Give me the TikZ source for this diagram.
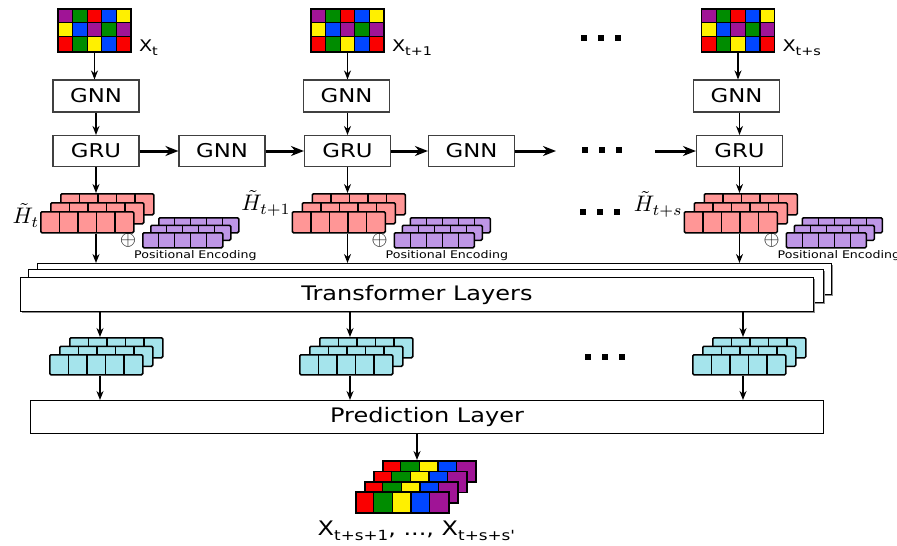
\documentclass[tikz,border=0pt]{standalone}
\usepackage{fontspec}
\usepackage{graphicx}
\setmainfont{DejaVu Sans}[FakeStretch=1.2]
\usetikzlibrary{arrows.meta,shadows}
\definecolor{cR}{RGB}{250,0,0}
\definecolor{cG}{RGB}{0,140,0}
\definecolor{cB}{RGB}{0,70,255}
\definecolor{cY}{RGB}{255,240,0}
\definecolor{cP}{RGB}{160,20,150}
\definecolor{hRed}{RGB}{255,150,150}
\definecolor{pePurple}{RGB}{190,150,230}
\definecolor{tCyan}{RGB}{165,228,236}

\newcommand\fs[1]{\fontsize{#1}{#1}\selectfont}
\newcommand\sbx[1]{\raisebox{-4pt}{\fs{12}#1}}
\newcommand\sbxx[1]{\raisebox{-5pt}{\fs{14}#1}}

% colour grid of an input X
\newcommand\xgrid[3]{%
  \foreach \c [count=\k from 0] in {cP,cG,cR,cB,cY,cY,cB,cP,cG,cP,cR,cG,cY,cB,cR}{%
    \pgfmathtruncatemacro\rr{\k/5}%
    \pgfmathtruncatemacro\cc{\k-5*\rr}%
    \fill[\c] ({#2-36.5+\cc*14.6},{#3+\rr*14.33}) rectangle ++(14.6,14.33);
  }
  \foreach \i in {1,...,4} \draw[line width=1.2pt] ({#2-36.5+\i*14.6},#3) -- ++(0,43);
  \foreach \j in {1,2} \draw[line width=1.2pt] (#2-36.5,{#3+\j*14.33}) -- ++(73,0);
  \node[draw, line width=1.6pt, minimum width=73pt, minimum height=43pt, anchor=north, inner sep=0pt] (#1) at (#2,#3) {};
}
% colour row of the output
\newcommand\crow[3]{%
  \foreach \c [count=\k from 0] in {cR,cG,cY,cB,cP}
    \fill[\c] ({#2+\k*18.6},#3) rectangle ++(18.6,21);
  \foreach \i in {1,...,4} \draw[line width=1.4pt] ({#2+\i*18.6},#3) -- ++(0,21);
  \node[draw, line width=1.5pt, minimum width=93pt, minimum height=21pt, anchor=north west, inner sep=0pt] (#1) at (#2,#3) {};
}
% hidden-state stack + positional encoding
\newcommand\hstack[2]{%
  \node[cells={93pt}{21pt}{hRed}{18.6pt}] (#1a) at (#2-36,193) {};
  \node[cells={93pt}{21pt}{hRed}{18.6pt}] (#1b) at (#2-46,202) {};
  \node[cells={93pt}{21pt}{hRed}{18.6pt}] (#1c) at (#2-56,211) {};
  \node[cells={80pt}{15pt}{pePurple}{16pt}] (#1p) at (#2+62,217) {};
  \node[cells={80pt}{15pt}{pePurple}{16pt}] (#1q) at (#2+54,224.5) {};
  \node[cells={80pt}{15pt}{pePurple}{16pt}] (#1r) at (#2+46,232) {};
  \node[inner sep=0pt] (#1o) at (#2+32,240) {\scalebox{2.05}{$\oplus$}};
  \node[anchor=west, inner sep=0pt, font=\fs{10.5}] (#1t) at (#2+38,256) {Positional Encoding};
}
\newcommand\cstack[2]{%
  \node[cells={93pt}{20pt}{tCyan}{18.6pt}] (#1a) at (#2-31,337) {};
  \node[cells={93pt}{20pt}{tCyan}{18.6pt}] (#1b) at (#2-41,345.5) {};
  \node[cells={93pt}{20pt}{tCyan}{18.6pt}] (#1c) at (#2-51,354) {};
}
\newcommand\dotsq[2]{%
  \foreach \d in {-17,0,17} \fill ({#1+\d-3.4},{#2-3.4}) rectangle ++(6.8,6.8);
}

\begin{document}
\begin{tikzpicture}[x=1pt,y=-1pt,
  nbox/.style={draw=black!75, line width=1.1pt, fill=white, minimum width=86pt, minimum height=31pt, inner sep=0pt, font=\fs{19}},
  tlayer/.style={draw=black, line width=1pt, fill=white, inner sep=0pt, anchor=north west, font=\fs{20}},
  shd/.style={drop shadow={shadow xshift=1.6pt, shadow yshift=-1.6pt, fill=black!45, opacity=1}},
  arrS/.style={-{Stealth[length=9pt,width=7pt]}, line width=1.7pt},
  arrL/.style={-{Stealth[length=13pt,width=10pt]}, line width=3pt},
  cells/.style n args={4}{draw, line width=1.5pt, rounded corners=1.2pt, anchor=north west, inner sep=0pt,
    minimum width=#1, minimum height=#2, fill=#3,
    path picture={\foreach \i in {1,...,4}{\draw[line width=1.4pt] ([xshift=\i*#4]path picture bounding box.north west) -- ([xshift=\i*#4]path picture bounding box.south west);}}},
]
\path[use as bounding box, fill=white] (0,0) rectangle (897,546);

% inputs
\xgrid{g1}{94.5}{8}
\xgrid{g2}{347.5}{8}
\xgrid{g3}{738}{8}
\node[anchor=base west, inner sep=0pt, font=\fs{16}] (lx1) at ([xshift=7pt,yshift=1pt]g1.south east) {X\sbx{t}};
\node[anchor=base west, inner sep=0pt, font=\fs{16}] (lx2) at ([xshift=7pt,yshift=1pt]g2.south east) {X\sbx{t+1}};
\node[anchor=base west, inner sep=0pt, font=\fs{16}] (lx3) at ([xshift=7pt,yshift=1pt]g3.south east) {X\sbx{t+s}};
\dotsq{601}{38}

% GNN top row
\node[nbox, minimum height=32pt] (n1) at (96,96) {GNN};
\node[nbox, minimum height=32pt] (n2) at (346.5,96) {GNN};
\node[nbox, minimum height=32pt] (n3) at (736.5,96) {GNN};
% GRU row
\node[nbox] (r1) at (96,151) {GRU};
\node[nbox] (na) at (222,151) {GNN};
\node[nbox] (r2) at (347.5,151) {GRU};
\node[nbox] (nb) at (471.5,151) {GNN};
\node[nbox] (r3) at (739.5,151) {GRU};
\coordinate (e1) at (556,151);
\coordinate (e2) at (655,151);
\dotsq{602}{150}

\foreach \g/\n/\r in {g1/n1/r1, g2/n2/r2, g3/n3/r3}{
  \draw[arrS] (\g.south) -- (\g.south |- \n.north);
  \draw[arrS] (\r.north |- \n.south) -- (\r.north);
}
\draw[arrL] (r1) -- (na);
\draw[arrL] (na) -- (r2);
\draw[arrL] (r2) -- (nb);
\draw[arrL] (nb) -- (e1);
\draw[arrL] (e2) -- (r3);

% hidden states
\hstack{h1}{96}
\hstack{h2}{347.5}
\hstack{h3}{739.5}
\node[anchor=east, inner sep=0.5pt] (lh1) at ([yshift=7pt]h1c.west) {\scalebox{2.25}{$\tilde{H}_t$}};
\node[anchor=east, inner sep=0.5pt] (lh2) at ([yshift=19pt]h2c.west) {\scalebox{2.25}{$\tilde{H}_{t+1}$}};
\node[anchor=east, inner sep=0.5pt] (lh3) at ([yshift=18pt]h3c.west) {\scalebox{2.25}{$\tilde{H}_{t+s}$}};
\dotsq{600}{212}

% transformer layers
\node[tlayer, shd, minimum width=794pt, minimum height=31pt] (tf3) at (37,263) {};
\node[tlayer, shd, minimum width=795pt, minimum height=33pt] (tf2) at (28,269) {};
\node[tlayer, shd, minimum width=793pt, minimum height=34pt] (tf1) at (20,277) {Transformer Layers};

\foreach \r/\h in {r1/h1, r2/h2, r3/h3}{
  \draw[arrS] (\r.south) -- (\r.south |- \h a.north);
  \draw[arrS] (\r.south |- \h c.south) -- (\r.south |- tf3.north);
}

% transformer outputs
\coordinate (k1) at (100,0);
\coordinate (k2) at (350,0);
\coordinate (k3) at (743,0);
\cstack{c1}{100}
\cstack{c2}{350}
\cstack{c3}{743}
\dotsq{605}{357}

% prediction layer
\node[tlayer, minimum width=793pt, minimum height=33pt] (pred) at (30,400) {Prediction Layer};

\foreach \k/\c in {k1/c1, k2/c2, k3/c3}{
  \draw[arrS] (tf1.south -| \k) -- (\c a.north -| \k);
  \draw[arrS] (\c c.south -| \k) -- (pred.north -| \k);
}

% output
\crow{o1}{382}{460}
\crow{o2}{373}{470.5}
\crow{o3}{364}{481}
\crow{o4}{355}{491}
\coordinate (ko) at (417,0);
\draw[arrS] (pred.south -| ko) -- (o1.north -| ko);
\node[anchor=base, inner sep=0pt, font=\fs{20}] (lo) at (416,535) {X\sbxx{t+s+1}, ..., X\sbxx{t+s+s\textquotesingle}};
\end{tikzpicture}
\end{document}
